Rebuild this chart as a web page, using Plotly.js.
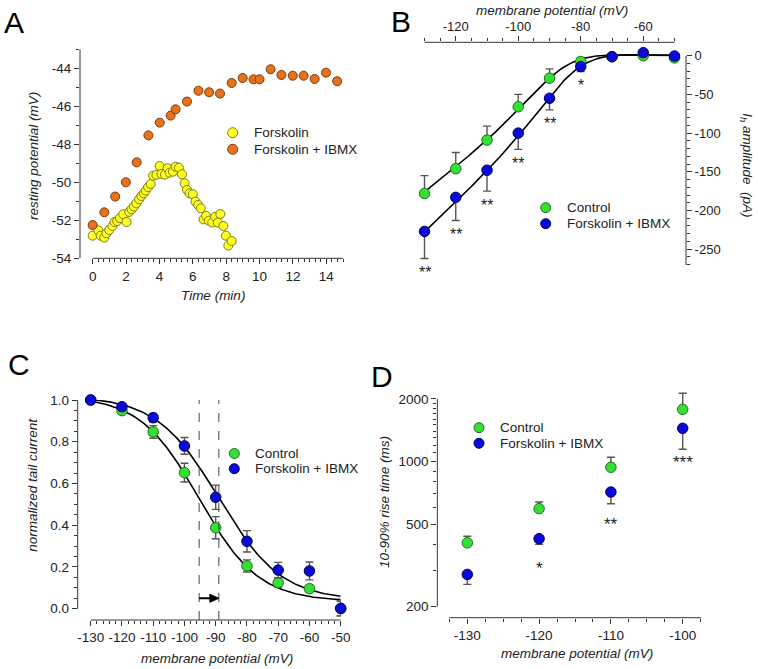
<!DOCTYPE html>
<html><head><meta charset="utf-8">
<script src="https://cdn.plot.ly/plotly-3.0.1.min.js"></script>
<style>html,body{margin:0;padding:0;background:#fff}#chart{width:758px;height:669px}</style>
</head><body><div id="chart"></div>
<script>
// ---------- Panel A : resting potential vs time ----------
const timeForsk = [0.0,0.34,0.48,0.70,0.83,0.99,1.19,1.31,1.47,1.63,1.83,2.03,2.19,2.33,2.47,2.62,2.78,2.92,3.06,3.18,3.32,3.48,3.62,3.82,4.02,4.12,4.33,4.49,4.61,4.81,4.97,5.17,5.35,5.51,5.65,5.81,6.00,6.16,6.32,6.48,6.64,6.80,6.96,7.16,7.34,7.50,7.65,7.83,7.99,8.13,8.33];
const restForsk = [-52.81,-52.53,-52.81,-52.91,-52.68,-52.51,-52.30,-52.09,-52.04,-51.89,-51.68,-52.09,-51.56,-51.42,-51.28,-51.11,-50.89,-50.72,-50.58,-50.44,-50.26,-50.09,-49.65,-49.60,-49.14,-49.56,-49.60,-49.26,-49.49,-49.44,-49.18,-49.23,-49.58,-50.05,-50.40,-50.58,-50.63,-51.02,-51.19,-51.37,-51.95,-51.77,-52.02,-52.12,-51.81,-52.12,-51.67,-52.30,-52.81,-53.33,-53.09];
const timeFI = [0,0.70,1.35,1.99,2.64,3.34,4.02,4.67,4.97,5.65,6.34,6.98,7.63,8.33,8.99,9.64,10.0,10.66,11.31,11.99,12.64,13.30,13.98,14.65];
const restFI = [-52.25,-51.58,-50.75,-50.0,-48.95,-47.53,-46.86,-46.49,-46.16,-45.75,-45.18,-45.26,-45.33,-44.77,-44.51,-44.58,-44.58,-44.05,-44.35,-44.39,-44.39,-44.56,-44.23,-44.68];
const ticksA_x = [0,2,4,6,8,10,12,14];
const ticksA_y = [-54,-52,-50,-48,-46,-44];

// ---------- Panel B : Ih amplitude vs membrane potential ----------
const voltB = [-130,-120,-110,-100,-90,-80,-70,-60,-50];
const ihControl = [-178,-146,-109,-66,-29,-7.5,-1.3,0,-2.8];
const ihControlErr = [23,21,18,16,12,4.4,0,0,0];
const ihFI = [-227,-183,-148,-100,-55,-14,-1.3,3.9,-0.4];
const ihFIErr = [35,30,27,21,15,6.5,0,0,0];
const sigB = ['**','**','**','**','**','*','','',''];
const ticksB_x = [-120,-100,-80,-60];
const ticksB_y = [-250,-200,-150,-100,-50,0];
// fit parameters (I = G (V-Erev) / (1+exp((V-Vh)/k)))
const fitB_Control = {G:3.15, Erev:-74, vHalf:-88, k:7};
const fitB_FI = {G:3.8, Erev:-70, vHalf:-84, k:7};

// ---------- Panel C : normalized tail current ----------
const voltC = [-130,-120,-110,-100,-90,-80,-70,-60,-50];
const tailControl = [1.0,0.949,0.847,0.652,0.388,0.205,0.125,0.096,0.0];
const tailControlErr = [0,0.01,0.03,0.045,0.053,0.029,0.022,0.015,0.035];
const tailFI = [1.0,0.968,0.915,0.780,0.534,0.323,0.185,0.181,0.002];
const tailFIErr = [0,0.01,0.021,0.04,0.058,0.051,0.037,0.043,0.035];
const ticksC_x = [-130,-120,-110,-100,-90,-80,-70,-60,-50];
const fitC_Control = {vHalf:-95.3, k:9.5, top:1.02, bottom:0.035};
const fitC_FI = {vHalf:-89.0, k:10, top:1.02, bottom:0.04};

// ---------- Panel D : 10-90% rise time ----------
const voltD = [-130,-120,-110,-100];
const riseControl = [406,593,938,1784];
const riseControlErr = [31,45,110,346];
const riseFI = [286,425,713,1445];
const riseFIErr = [30,26,87,300];
const sigD = ['','*','**','***'];
const ticksD_x = [-130,-120,-110,-100];
const ticksD_y = [200,500,1000,2000];

// ---------- styles ----------
const W = 758, H = 669;
const FONT = 'Arial, "Liberation Sans", Helvetica, sans-serif';
const AX = '#333333';
const TXT = '#222222';
const cYellow = {fill:'#ffff22', line:'#7d7d1e'};
const cOrange = {fill:'#e8721c', line:'#7a3a08'};
const cGreen = {fill:'#33e033', line:'#1d6e1d'};
const cBlue = {fill:'#0a0ad8', line:'#00005e'};
const px = v => v / W;
const py = v => 1 - v / H;

function range(a, b, s) { const r = []; for (let v = a; v <= b + 1e-9; v += s) r.push(+v.toFixed(6)); return r; }
function boltzIV(p, V) { return p.G * (V - p.Erev) / (1 + Math.exp((V - p.vHalf) / p.k)); }
function boltzAct(p, V) { return p.bottom + (p.top - p.bottom) / (1 + Math.exp((V - p.vHalf) / p.k)); }
const lbl = arr => arr.map(v => String(v));   // plain hyphen-minus labels

const fitV = range(-130, -50, 0.5);

const traces = [];
// A
traces.push({x: timeForsk, y: restForsk, xaxis:'x', yaxis:'y', mode:'markers', type:'scatter', name:'Forskolin', showlegend:false, cliponaxis:false,
  marker:{size:9, color:cYellow.fill, line:{color:cYellow.line, width:1}}});
traces.push({x: timeFI, y: restFI, xaxis:'x', yaxis:'y', mode:'markers', type:'scatter', name:'Forskolin + IBMX', showlegend:false, cliponaxis:false,
  marker:{size:9, color:cOrange.fill, line:{color:cOrange.line, width:1}}});
// B fits
traces.push({x: fitV, y: fitV.map(v => boltzIV(fitB_Control, v)), xaxis:'x2', yaxis:'y2', mode:'lines', showlegend:false, line:{color:'#000', width:1.6}, hoverinfo:'skip'});
traces.push({x: fitV, y: fitV.map(v => boltzIV(fitB_FI, v)), xaxis:'x2', yaxis:'y2', mode:'lines', showlegend:false, line:{color:'#000', width:1.6}, hoverinfo:'skip'});
// B data
const EB = {color:'#555555', thickness:1.4, width:4};
traces.push({x: voltB, y: ihControl, xaxis:'x2', yaxis:'y2', mode:'markers', name:'Control', showlegend:false, cliponaxis:false,
  error_y:Object.assign({type:'data', symmetric:false, array: ihControlErr, arrayminus: ihControlErr.map(() => 0)}, EB),
  marker:{size:10.5, color:cGreen.fill, line:{color:cGreen.line, width:1}}});
traces.push({x: voltB, y: ihFI, xaxis:'x2', yaxis:'y2', mode:'markers', name:'Forskolin + IBMX', showlegend:false, cliponaxis:false,
  error_y:Object.assign({type:'data', symmetric:false, array: ihFIErr.map(() => 0), arrayminus: ihFIErr}, EB),
  marker:{size:10.5, color:cBlue.fill, line:{color:cBlue.line, width:1}}});
// C fits
traces.push({x: fitV, y: fitV.map(v => boltzAct(fitC_Control, v)), xaxis:'x3', yaxis:'y3', mode:'lines', showlegend:false, line:{color:'#000', width:1.6}, hoverinfo:'skip', cliponaxis:false});
traces.push({x: fitV, y: fitV.map(v => boltzAct(fitC_FI, v)), xaxis:'x3', yaxis:'y3', mode:'lines', showlegend:false, line:{color:'#000', width:1.6}, hoverinfo:'skip', cliponaxis:false});
traces.push({x: voltC, y: tailControl, xaxis:'x3', yaxis:'y3', mode:'markers', name:'Control', showlegend:false, cliponaxis:false,
  error_y:Object.assign({type:'data', array: tailControlErr}, EB),
  marker:{size:10.5, color:cGreen.fill, line:{color:cGreen.line, width:1}}});
traces.push({x: voltC, y: tailFI, xaxis:'x3', yaxis:'y3', mode:'markers', name:'Forskolin + IBMX', showlegend:false, cliponaxis:false,
  error_y:Object.assign({type:'data', array: tailFIErr}, EB),
  marker:{size:10.5, color:cBlue.fill, line:{color:cBlue.line, width:1}}});
// D
traces.push({x: voltD, y: riseControl, xaxis:'x4', yaxis:'y4', mode:'markers', name:'Control', showlegend:false, cliponaxis:false,
  error_y:Object.assign({type:'data', symmetric:false, array: riseControlErr, arrayminus: riseControlErr.map(() => 0)}, EB),
  marker:{size:10.5, color:cGreen.fill, line:{color:cGreen.line, width:1}}});
traces.push({x: voltD, y: riseFI, xaxis:'x4', yaxis:'y4', mode:'markers', name:'Forskolin + IBMX', showlegend:false, cliponaxis:false,
  error_y:Object.assign({type:'data', symmetric:false, array: riseFI.map(() => 0), arrayminus: riseFIErr}, EB),
  marker:{size:10.5, color:cBlue.fill, line:{color:cBlue.line, width:1}}});

// ---------- axes ----------
const tickFontA = {family:FONT, size:13.5, color:TXT};
const tickFont = {family:FONT, size:13, color:TXT};
const tickFontCD = {family:FONT, size:13.5, color:TXT};
const base = {showline:false, showgrid:false, zeroline:false, ticks:'outside', ticklen:5, tickwidth:1, tickcolor:AX, fixedrange:true, tickangle:0, tickmode:'array'};

const rangeA_x = [-0.758, 15.0], rangeA_y = [-54, -43];
const rangeB_x = [-132, -46.32], rangeB_y = [-270.4, 17.3];
const rangeC_x = [-134.16, -50], rangeC_y = [-0.0541, 1.0];
const rangeD_x = [-134.18, -97.45], rangeD_y = [2.248, 3.3443];

const minorA_x = range(0, 15, 1/3).filter((v, i) => i % 6 !== 0);
const minorA_y = range(-53, -43, 2);
const minorB_x = range(-130, -50, 5).filter(v => Math.abs(v % 20) > 1e-6);
const minorB_y = range(-270, 0, 10).filter(v => Math.abs(v % 50) > 1e-6);
const minorC_x = range(-130, -50, 2).filter(v => Math.abs(v % 10) > 1e-6);
const minorC_y = range(0, 1, 0.05).filter((v, i) => i % 4 !== 0);
const minorD_x = range(-132.5, -97.5, 2.5).filter(v => Math.abs(v % 10) > 1e-6);
const minorD_y = [300,400,600,700,800,900,1100,1200,1300,1400,1500,1600,1700,1800,1900];
const mnr = vals => ({ticks:'outside', ticklen:3, tickcolor:AX, tickmode:'array', tickvals:vals});

const layout = {
  width: W, height: H, margin:{l:0, r:0, t:0, b:0}, paper_bgcolor:'#fff', plot_bgcolor:'rgba(0,0,0,0)',
  showlegend:false, font:{family:FONT, color:TXT},
  xaxis: Object.assign({}, base, {domain:[px(80), px(343)], range:rangeA_x, anchor:'y', tickvals:ticksA_x, ticktext:lbl(ticksA_x), tickfont:tickFontA, minor:mnr(minorA_x)}),
  yaxis: Object.assign({}, base, {domain:[py(258.3), py(49.3)], range:rangeA_y, anchor:'x', tickvals:ticksA_y, ticktext:lbl(ticksA_y), tickfont:tickFontA, minor:mnr(minorA_y)}),
  xaxis2: Object.assign({}, base, {domain:[px(418.25), px(686)], range:rangeB_x, anchor:'y2', side:'top', tickvals:ticksB_x, ticktext:lbl(ticksB_x), tickfont:tickFont, minor:mnr(minorB_x)}),
  yaxis2: Object.assign({}, base, {domain:[py(265), py(42.3)], range:rangeB_y, anchor:'x2', side:'right', tickvals:ticksB_y, ticktext:lbl(ticksB_y), tickfont:tickFont, minor:mnr(minorB_y)}),
  xaxis3: Object.assign({}, base, {domain:[px(77.7), px(340.7)], range:rangeC_x, anchor:'y3', tickvals:ticksC_x, ticktext:lbl(ticksC_x), tickfont:tickFontCD, minor:mnr(minorC_x)}),
  yaxis3: Object.assign({}, base, {domain:[py(620), py(400)], range:rangeC_y, anchor:'x3', tickmode:'linear', tick0:0, dtick:0.2, tickformat:'.1f', tickfont:tickFontCD, minor:mnr(minorC_y)}),
  xaxis4: Object.assign({}, base, {domain:[px(437.3), px(701)], range:rangeD_x, anchor:'y4', tickvals:ticksD_x, ticktext:lbl(ticksD_x), tickfont:tickFontCD, minor:mnr(minorD_x)}),
  yaxis4: Object.assign({}, base, {domain:[py(617.7), py(390)], type:'log', range:rangeD_y, anchor:'x4', tickvals:ticksD_y, ticktext:lbl(ticksD_y), tickfont:tickFontCD, minor:mnr(minorD_y)}),
  shapes: [], annotations: []
};

// axis lines drawn only over the extent used in the figure
function hline(xref, x0, x1, yref, y) { return {type:'line', xref, yref, x0, x1, y0:y, y1:y, line:{color:AX, width:1}}; }
function vline(xref, x, yref, y0, y1) { return {type:'line', xref, yref, x0:x, x1:x, y0, y1, line:{color:AX, width:1}}; }
const dFrac = v => (Math.log10(v) - rangeD_y[0]) / (rangeD_y[1] - rangeD_y[0]);
layout.shapes.push(
  hline('x', 0, 15, 'y domain', 0), vline('x domain', 0, 'y', -54, -43),
  hline('x2', -130, -50, 'y2 domain', 1), vline('x2 domain', 1, 'y2', rangeB_y[0], 0),
  hline('x3', -130, -50, 'y3 domain', 0), vline('x3 domain', 0, 'y3', 0, 1),
  hline('x4', -132.5, rangeD_x[1], 'y4 domain', 0), vline('x4 domain', 0, 'y4 domain', dFrac(200), dFrac(2000))
);
// dashed half-activation lines in C
[fitC_Control.vHalf, fitC_FI.vHalf].forEach(v => layout.shapes.push({type:'line', xref:'x3', yref:'y3', x0:v, x1:v, y0:rangeC_y[0], y1:1.0, line:{color:'#444', width:1, dash:'dash'}}));
// arrow (shift of half-activation) in C
const arrowY = 0.05;
layout.shapes.push({type:'line', xref:'x3', yref:'y3', x0:fitC_Control.vHalf, x1:fitC_FI.vHalf - 1.6, y0:arrowY, y1:arrowY, line:{color:'#000', width:2}});
layout.shapes.push({type:'path', xref:'x3', yref:'y3', xsizemode:'pixel', ysizemode:'pixel', xanchor:fitC_FI.vHalf, yanchor:arrowY,
  path:'M 0 0 L -9 4 L -9 -4 Z', fillcolor:'#000', line:{color:'#000', width:1}});

// legends (marker circles + text)
function legendItem(xc, yc, col, label) {
  layout.shapes.push({type:'circle', xref:'paper', yref:'paper', xsizemode:'pixel', ysizemode:'pixel', xanchor:px(xc), yanchor:py(yc),
    x0:-5, x1:5, y0:-5, y1:5, fillcolor:col.fill, line:{color:col.line, width:1}});
  layout.annotations.push({xref:'paper', yref:'paper', x:px(xc + 19), y:py(yc), xanchor:'left', yanchor:'middle', showarrow:false,
    text:label, font:{family:FONT, size:13.5, color:TXT}});
}
legendItem(232.7, 132.7, cYellow, 'Forskolin');
legendItem(232.7, 149.3, cOrange, 'Forskolin + IBMX');
legendItem(545.7, 207.7, cGreen, 'Control');
legendItem(545.7, 223.7, cBlue, 'Forskolin + IBMX');
legendItem(234.3, 453.5, cGreen, 'Control');
legendItem(234.3, 468.7, cBlue, 'Forskolin + IBMX');
legendItem(479, 427.7, cGreen, 'Control');
legendItem(479, 443.3, cBlue, 'Forskolin + IBMX');

// titles
function title(x, y, text, angle, size) {
  layout.annotations.push({xref:'paper', yref:'paper', x:px(x), y:py(y), xanchor:'center', yanchor:'middle', showarrow:false,
    text:text, textangle:angle || 0, font:{family:FONT, size:size || 13.5, color:TXT}});
}
title(213, 295, '<i>Time (min)</i>');
title(33, 156, '<i>resting potential (mV)</i>', -90);
title(551.7, 10, '<i>membrane potential (mV)</i>');
title(746.7, 165, '<i>I<sub>h</sub> amplitude  (pA)</i>', 90);
title(216.7, 658.3, '<i>membrane potential (mV)</i>');
title(31.7, 485, '<i>normalized tail current</i>', -90);
title(576.7, 653.3, '<i>membrane potential (mV)</i>');
title(384, 502, '<i>10-90% rise time (ms)</i>', -90);

// panel letters
function letter(x, y, t) {
  layout.annotations.push({xref:'paper', yref:'paper', x:px(x), y:py(y), xanchor:'left', yanchor:'middle', showarrow:false,
    text:t, font:{family:FONT, size:30, color:'#000'}});
}
letter(2, 22.5, 'A'); letter(388.5, 21.7, 'B'); letter(5.5, 365, 'C'); letter(368.5, 376, 'D');

// significance stars
voltB.forEach((v, i) => { if (sigB[i]) layout.annotations.push({xref:'x2', yref:'y2', x:v, y:ihFI[i] - ihFIErr[i], yanchor:'middle', yshift:-14, showarrow:false,
  text:sigB[i], font:{family:FONT, size:16, color:TXT}}); });
const starYD = [null, 323.6, 527, 1048];
voltD.forEach((v, i) => { if (sigD[i]) layout.annotations.push({xref:'x4', yref:'y4', x:v, y:Math.log10(starYD[i]), yanchor:'middle', yshift:-5, showarrow:false,
  text:sigD[i], font:{family:FONT, size:17, color:TXT}}); });

Plotly.newPlot('chart', traces, layout, {staticPlot:true, displayModeBar:false});
</script></body></html>
